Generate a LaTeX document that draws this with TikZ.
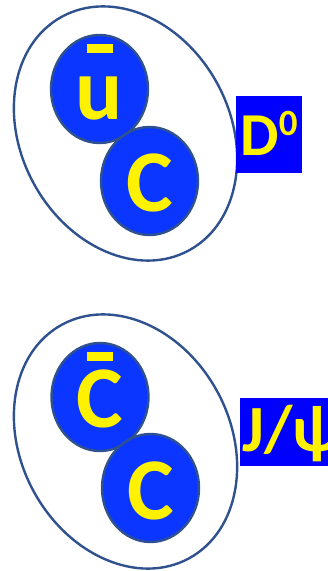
\documentclass[tikz,border=0pt]{standalone}
\usepackage{fontspec}
\setmainfont{Carlito}
\usetikzlibrary{shapes.geometric}

\definecolor{quarkblue}{RGB}{10,54,255}
\definecolor{rim}{RGB}{47,82,143}
\newcommand\antiq[1]{\ooalign{#1\cr\hidewidth\rule[67pt]{26pt}{8.5pt}\hidewidth\cr}}

\begin{document}
\begin{tikzpicture}[
  x=1pt, y=1pt,
  bag/.style={draw=rim, line width=2.4pt},
  quark/.style={ellipse, draw=rim, line width=2.4pt, fill=quarkblue,
    minimum width=97pt, minimum height=108pt, inner sep=0pt,
    text height=62pt, text depth=0pt, text=yellow,
    font=\fontsize{88}{88}\selectfont\bfseries},
  hadron/.style={rectangle, fill=blue, text=yellow, inner sep=0pt,
    font=\fontsize{61}{61}\selectfont\bfseries}
]
\useasboundingbox (0,0) rectangle (328,571);

% D0 meson
\draw[bag, rotate around={-61.5:(125.5,437.5)}] (125.5,437.5) ellipse [x radius=133pt, y radius=104.5pt];
\node[quark] (ubar) at (99.5,482) {\antiq{u}};
\node[quark] (c1) at (149.5,390) {C};
\node[hadron, minimum width=66pt, text height=60pt, text depth=17pt] (D0) at (269,436.5)
  {D{\fontsize{37}{37}\selectfont\raisebox{20pt}{0}}};

% J/psi meson
\draw[bag, rotate around={-61.5:(125.5,129.5)}] (125.5,129.5) ellipse [x radius=133pt, y radius=104.5pt];
\node[quark] (cbar) at (100,174) {\antiq{C}};
\node[quark] (c2) at (150.5,83) {C};
\node[hadron, anchor=west, inner xsep=2pt, text height=54pt, text depth=14pt,
  font=\fontsize{66}{66}\selectfont\bfseries] (jpsi) at (240,139) {J/ψ};

\end{tikzpicture}
\end{document}
